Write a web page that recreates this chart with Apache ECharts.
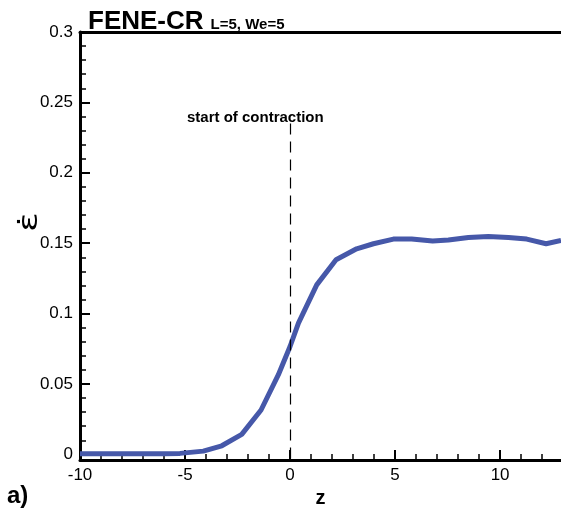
<!DOCTYPE html>
<html>
	<head>
		<meta charset="utf-8">
		<title>FENE-CR</title>
		<style>
			html, body { margin: 0; padding: 0; background: #fff; }
			#main { width: 561px; height: 510px; }
		</style>
	</head>
	<body>
		<div id="main"></div>
	</body>
	<script src="https://cdn.jsdelivr.net/npm/echarts@6/dist/echarts.min.js"></script>
	<script>
		// data
		var zValues = [-10, -9, -8, -7, -6, -5.24, -4.13, -3.25, -2.3, -1.38, -0.56, 0, 0.4, 1.27, 2.19, 3.17, 3.97, 4.92, 5.79, 6.79, 7.54, 8.49, 9.44, 10.4, 11.27, 12.19, 12.9]
		var rateValues = [0.0004, 0.0004, 0.0004, 0.0004, 0.0005, 0.0007, 0.0023, 0.0061, 0.0142, 0.0315, 0.0564, 0.0766, 0.0932, 0.1204, 0.1382, 0.146, 0.1496, 0.1529, 0.1529, 0.1515, 0.1522, 0.1541, 0.1548, 0.1541, 0.1529, 0.1496, 0.1519]
		var xMajor = [-10, -5, 0, 5, 10]
		var xMinor = [-9, -8, -7, -6, -4, -3, -2, -1, 1, 2, 3, 4, 6, 7, 8, 9, 11, 12]
		var yMajor = [0, 0.05, 0.1, 0.15, 0.2, 0.25, 0.3]
		var yMinor = []
		for (var k = 1; k < 30; k++) { if (k % 5 != 0) yMinor.push(k / 100) }

		var font = 'Liberation Sans'
		var myChart = echarts.init(document.getElementById('main'))

		var option = {
			animation: false,
			grid: { left: 80, top: 32, right: 0, bottom: 50, outerBoundsMode: 'none', containLabel: false },
			title: {
				text: '{big|FENE-CR} {small|L=5, We=5}',
				left: 83, top: 4,
				textStyle: {
					rich: {
						big: { fontFamily: font, fontWeight: 'bold', fontSize: 26, color: '#000' },
						small: { fontFamily: font, fontWeight: 'bold', fontSize: 15, color: '#000', padding: [6, 0, 0, 2] }
					}
				}
			},
			xAxis: [{
				type: 'value', min: -10, max: 12.9, position: 'bottom',
				name: 'z', nameLocation: 'middle', nameGap: 24,
				nameTextStyle: { fontFamily: font, fontWeight: 'bold', fontSize: 20, color: '#000' },
				axisLine: { onZero: false, lineStyle: { color: '#000', width: 3 } },
				axisTick: { inside: true, length: 10, customValues: xMajor, lineStyle: { color: '#000', width: 2 } },
				axisLabel: { customValues: xMajor, fontFamily: font, fontSize: 17, color: '#000', margin: 7 },
				splitLine: { show: false }
			}, {
				type: 'value', min: -10, max: 12.9, position: 'bottom',
				axisLine: { show: false, onZero: false },
				axisTick: { inside: true, length: 6, customValues: xMinor, lineStyle: { color: '#000', width: 1.5 } },
				axisLabel: { show: false },
				splitLine: { show: false }
			}, {
				type: 'value', min: -10, max: 12.9, position: 'top',
				axisLine: { onZero: false, lineStyle: { color: '#000', width: 3 } },
				axisTick: { show: false },
				axisLabel: { show: false },
				splitLine: { show: false }
			}],
			yAxis: [{
				type: 'value', min: -0.004, max: 0.3, position: 'left',
				axisLine: { show: true, onZero: false, lineStyle: { color: '#000', width: 3 } },
				axisTick: { show: true, inside: true, length: 10, customValues: yMajor, lineStyle: { color: '#000', width: 2 } },
				axisLabel: { customValues: yMajor, fontFamily: font, fontSize: 17, color: '#000', margin: 7 },
				splitLine: { show: false }
			}, {
				type: 'value', min: -0.004, max: 0.3, position: 'left',
				axisLine: { show: false, onZero: false },
				axisTick: { show: true, inside: true, length: 6, customValues: yMinor, lineStyle: { color: '#000', width: 1.5 } },
				axisLabel: { show: false },
				splitLine: { show: false }
			}],
			graphic: [{
				type: 'text', left: 187, top: 110,
				style: { text: 'start of contraction', font: 'bold 15px "Liberation Sans"', fill: '#000' }
			}, {
				type: 'text', left: 7, top: 484,
				style: { text: 'a)', font: 'bold 24px "Liberation Sans"', fill: '#000' }
			}, {
				type: 'text', x: 30, y: 222, rotation: Math.PI / 2, scaleX: 1, scaleY: 0.75,
				style: { text: 'ε̇', font: '36px "DejaVu Sans"', fill: '#000', align: 'center', verticalAlign: 'middle' }
			}],
			series: [{
				type: 'line',
				xAxisIndex: 0, yAxisIndex: 0,
				data: zValues.map(function (z, i) { return [z, rateValues[i]] }),
				showSymbol: false,
				lineStyle: { color: '#4658a9', width: 5 },
				markLine: {
					silent: true,
					symbol: 'none',
					label: { show: false },
					lineStyle: { color: '#000', width: 1.2, type: [11, 7] },
					data: [[{ coord: [0, 0.235] }, { coord: [0, -0.004] }]]
				}
			}]
		}
		myChart.setOption(option)
	</script>
</html>
